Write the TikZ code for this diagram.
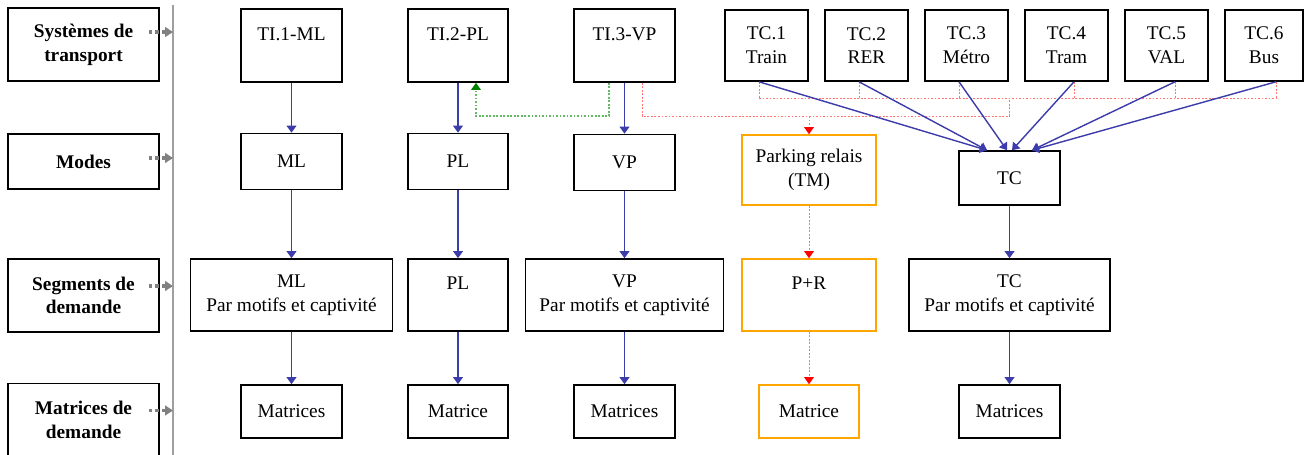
\documentclass[tikz,border=0pt]{standalone}
\usepackage{fontspec}
\setmainfont{Liberation Serif}
\usetikzlibrary{arrows.meta, positioning, calc}

\definecolor{linkblue}{RGB}{60,60,170}
\definecolor{parkorange}{RGB}{255,165,0}
\definecolor{feedred}{RGB}{255,115,115}
\definecolor{sharegreen}{RGB}{100,185,100}

\begin{document}
\begin{tikzpicture}[
  box/.style={draw, line width=0.9pt, minimum width=#1, align=center, inner sep=1pt, font=\fontsize{11}{13.5}\selectfont},
  park/.style={box=#1, draw=parkorange},
  lab/.style={box=3.02cm, font=\fontsize{11}{13.5}\selectfont\bfseries},
  rowa/.style={minimum height=1.46cm},
  rowb/.style={minimum height=1.12cm},
  rowc/.style={minimum height=1.44cm},
  rowd/.style={minimum height=1.06cm},
  flow/.style={draw=linkblue, line width=0.8pt, -{Triangle[width=5.5pt,length=4pt]}},
  feed/.style={draw=feedred, line width=0.5pt, dash pattern=on 1pt off 1pt},
  share/.style={draw=sharegreen, line width=0.6pt, dash pattern=on 1pt off 1pt},
  guide/.style={draw=gray, line width=2pt, dash pattern=on 2pt off 1.8pt, -{Triangle[width=5.5pt,length=4.5pt]}},
  axis/.style={draw=gray!75, line width=0.8pt}
]
\useasboundingbox (0,0) rectangle (26.12,-9.08);

% Levels
\node[lab, rowa] (labsys) at (1.67,-0.89) {Systèmes de\\transport};
\node[lab, minimum height=1.10cm] (labmod) at (1.67,-3.23) {Modes};
\node[lab, rowa] (labseg) at (1.67,-5.91) {Segments de\\demande};
\node[lab, rowa] (labmat) at (1.67,-8.40) {Matrices de\\demande};

\coordinate (axtop) at (3.46,-0.1);
\coordinate (axbot) at (3.46,-9.3);
\draw[axis] (axtop) -- (axbot);
\foreach \n/\d in {labsys/0.25, labmod/0.07, labseg/0.19, labmat/0.19}
  \draw[guide] ([shift={(-0.22,\d)}]\n.east) -- ([yshift=\d cm]\n.east -| axtop);

% Transport systems
\node[box=2.02cm, rowa] (ti1) at (5.83,-0.91) {TI.1-ML\\\mbox{}};
\node[box=2.00cm, rowa] (ti2) at (9.16,-0.91) {TI.2-PL\\\mbox{}};
\node[box=2.02cm, rowa] (ti3) at (12.49,-0.91) {TI.3-VP\\\mbox{}};
\node[box=1.66cm, minimum height=1.42cm] (tc1) at (15.33,-0.91) {TC.1\\Train};
\node[box=1.66cm, minimum height=1.42cm] (tc2) at (17.33,-0.91) {TC.2\\RER};
\node[box=1.66cm, minimum height=1.42cm] (tc3) at (19.33,-0.91) {TC.3\\Métro};
\node[box=1.66cm, minimum height=1.42cm] (tc4) at (21.33,-0.91) {TC.4\\Tram};
\node[box=1.66cm, minimum height=1.42cm] (tc5) at (23.33,-0.91) {TC.5\\VAL};
\node[box=1.56cm, minimum height=1.42cm] (tc6) at (25.28,-0.91) {TC.6\\Bus};

% Modes
\node[box=2.02cm, rowb] (ml) at (5.83,-3.23) {ML};
\node[box=2.00cm, rowb] (pl) at (9.16,-3.23) {PL};
\node[box=2.02cm, rowb] (vp) at (12.49,-3.25) {VP};
\node[park=2.68cm, minimum height=1.40cm] (prk) at (16.18,-3.40) {Parking relais\\(TM)};
\node[box=2.02cm, minimum height=1.08cm] (tcm) at (20.19,-3.56) {TC};

% Demand segments
\node[box=4.04cm, rowc] (mls) at (5.83,-5.90) {ML\\Par motifs et captivité};
\node[box=2.00cm, rowc] (pls) at (9.16,-5.90) {PL\\\mbox{}};
\node[box=3.96cm, rowc] (vps) at (12.49,-5.90) {VP\\Par motifs et captivité};
\node[park=2.68cm, rowc] (prs) at (16.18,-5.90) {P+R\\\mbox{}};
\node[box=4.02cm, rowc] (tcs) at (20.19,-5.90) {TC\\Par motifs et captivité};

% Demand matrices
\node[box=2.02cm, rowd] (mlx) at (5.83,-8.23) {Matrices};
\node[box=2.00cm, rowd] (plx) at (9.16,-8.23) {Matrice};
\node[box=2.02cm, rowd] (vpx) at (12.49,-8.23) {Matrices};
\node[park=2.00cm, rowd] (prx) at (16.18,-8.23) {Matrice};
\node[box=2.02cm, rowd] (tcx) at (20.19,-8.23) {Matrices};

% Dotted links
\coordinate (tcbar) at (0,-1.96);
\coordinate (vpbar) at (0,-2.32);
\draw[share, -{Triangle[width=5.5pt,length=4pt,color=green!50!black]}]
  ([xshift=-0.31cm]ti3.south) |- ([xshift=0.36cm]ti2.south |- vpbar) -- ([xshift=0.36cm]ti2.south);
\draw[feed] ([xshift=0.35cm]ti3.south) |- (tcm.north |- vpbar) -- (tcm.north |- tcbar);
\draw[feed] ([xshift=-0.15cm]tc1.south |- tcbar) -- ([xshift=0.24cm]tc6.south |- tcbar);
\foreach \k/\a in {1/-0.15, 2/-0.15, 3/-0.15, 4/0.15, 5/0.17, 6/0.24}
  \draw[feed] ([xshift=\a cm]tc\k.south) -- ([xshift=\a cm]tc\k.south |- tcbar);
\draw[feed, -{Triangle[width=5.5pt,length=4pt,color=red]}] (prk.north |- vpbar) -- (prk);
\draw[feed, -{Triangle[width=5.5pt,length=4pt,color=red]}] (prk) -- (prs);
\draw[feed, -{Triangle[width=5.5pt,length=4pt,color=red]}] (prs) -- (prx);

% Main flows
\draw[flow] (ti1) -- (ml);
\draw[flow] (ml) -- (mls);
\draw[flow] (mls) -- (mlx);
\draw[flow] (ti2) -- (pl);
\draw[flow] (pl) -- (pls);
\draw[flow] (pls) -- (plx);
\draw[flow] (ti3) -- (vp);
\draw[flow] (vp) -- (vps);
\draw[flow] (vps) -- (vpx);
\foreach \k/\a/\b in {1/-0.15/-0.45, 2/-0.15/-0.45, 3/-0.15/-0.05, 4/0.15/0.05, 5/0.17/0.45, 6/0.24/0.45}
  \draw[flow] ([xshift=\a cm]tc\k.south) -- ([xshift=\b cm]tcm.north);
\draw[flow] (tcm) -- (tcs);
\draw[flow] (tcs) -- (tcx);

\end{tikzpicture}
\end{document}
